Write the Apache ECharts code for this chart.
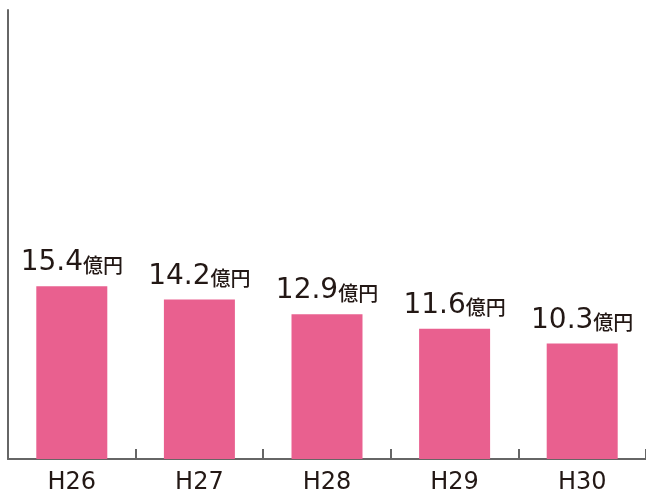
<!DOCTYPE html>
<html><head><meta charset="utf-8">
<script src="https://cdn.jsdelivr.net/npm/echarts@6/dist/echarts.min.js"></script>
<style>html,body{margin:0;padding:0;background:#fff}#c{width:646px;height:495px}</style>
</head><body><div id="c"></div>
<script>
const categories = ['H26','H27','H28','H29','H30'];
const values = [15.4, 14.2, 12.9, 11.6, 10.3];
const unit = '億円';
const chart = echarts.init(document.getElementById('c'));
chart.setOption({
  animation: false,
  grid: {left: 8, right: -2, top: 10, bottom: 35},
  xAxis: {
    type: 'category', data: categories,
    axisLine: {lineStyle: {color: '#666', width: 2}},
    axisTick: {show: true, inside: true, length: 10, lineStyle: {color: '#666', width: 2}},
    axisLabel: {color: '#231815', fontSize: 24, fontFamily: 'DejaVu Sans', margin: 12}
  },
  yAxis: {
    type: 'value', min: 0, max: 40,
    axisLine: {show: true, lineStyle: {color: '#666', width: 2}},
    axisTick: {show: false}, axisLabel: {show: false}, splitLine: {show: false}
  },
  series: [{
    type: 'bar', data: values, barWidth: 71,
    itemStyle: {color: '#E9608F'},
    label: {
      show: true, position: 'top', distance: 9,
      formatter: p => '{a|' + p.value.toFixed(1) + '}{b|' + unit + '}',
      rich: {
        a: {fontSize: 28, color: '#231815', fontFamily: 'DejaVu Sans'},
        b: {fontSize: 20, color: '#231815', fontFamily: 'Noto Sans CJK JP', fontWeight: 500, verticalAlign: 'bottom', padding: [0,0,2,0]}
      }
    }
  }]
});
</script></body></html>
